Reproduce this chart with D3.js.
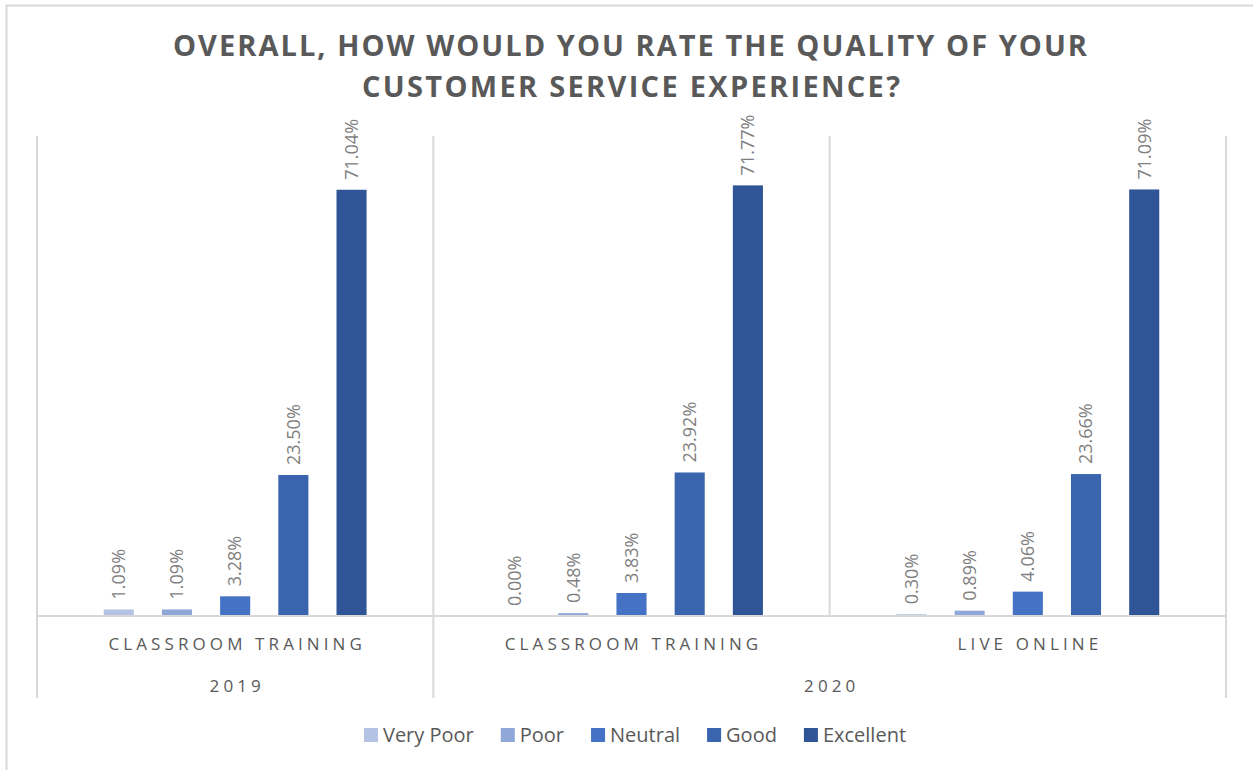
<!DOCTYPE html>
<html>
<head>
<meta charset="utf-8">
<script src="https://cdn.jsdelivr.net/npm/d3@7"></script>
<style>
  body { margin: 0; background: #fff; }
  svg { display: block; font-family: "Open Sans", "Liberation Sans", sans-serif; }
</style>
</head>
<body>
<script>
// data
var titleLines = ["OVERALL, HOW WOULD YOU RATE THE QUALITY OF YOUR", "CUSTOMER SERVICE EXPERIENCE?"];
var groups = ["CLASSROOM TRAINING|2019", "CLASSROOM TRAINING|2020", "LIVE ONLINE|2020"];
var groupLabels = ["CLASSROOM TRAINING", "CLASSROOM TRAINING", "LIVE ONLINE"];
var years = ["2019", "2020"];
var yearSpans = [[0, 0], [1, 2]];
var series = ["Very Poor", "Poor", "Neutral", "Good", "Excellent"];
var colors = ["#b4c2e4", "#8fa7d9", "#4472c4", "#3a64ae", "#2f5597"];
var veryPoor  = [1.09, 0.00, 0.30];
var poor      = [1.09, 0.48, 0.89];
var neutral   = [3.28, 3.83, 4.06];
var good      = [23.50, 23.92, 23.66];
var excellent = [71.04, 71.77, 71.09];
var values = [veryPoor, poor, neutral, good, excellent];

var W = 1253, H = 770;
var plot = {left: 37, right: 1226, top: 136, bottom: 616};

var svg = d3.select("body").append("svg")
    .attr("width", W)
    .attr("height", H);

// outer chart border
svg.append("rect")
    .attr("x", 6.5).attr("y", 5.5)
    .attr("width", 1260).attr("height", 800)
    .attr("fill", "none")
    .attr("stroke", "#d9d9d9")
    .attr("stroke-width", 2);

// title
svg.selectAll(".title")
    .data(titleLines).enter()
    .append("text")
    .attr("class", "title")
    .attr("x", function(d, i) { return i == 0 ? 630 : 631; })
    .attr("y", function(d, i) { return 56 + i * 41; })
    .attr("text-anchor", "middle")
    .attr("textLength", function(d, i) { return i == 0 ? 914 : 538; })
    .attr("lengthAdjust", "spacing")
    .style("font-size", "29px")
    .style("font-weight", "bold")
    .style("fill", "#595959")
    .text(function(d) { return d; });

var x0 = d3.scaleBand()
    .domain(groups)
    .range([plot.left, plot.right]);

var x1 = d3.scaleBand()
    .domain(series)
    .range([0, x0.bandwidth()])
    .paddingInner(0.483)
    .paddingOuter(1.147);

var y = d3.scaleLinear()
    .domain([0, 80])
    .range([plot.bottom, plot.top]);

var grid = "#d9d9d9";

// vertical separators
var seps = [
  {x: plot.left, y2: 698},
  {x: x0(groups[1]), y2: 698},
  {x: x0(groups[2]), y2: plot.bottom},
  {x: plot.right, y2: 698}
];
svg.selectAll(".sep")
    .data(seps).enter()
    .append("line")
    .attr("x1", function(d) { return d.x; })
    .attr("x2", function(d) { return d.x; })
    .attr("y1", plot.top)
    .attr("y2", function(d) { return d.y2; })
    .attr("stroke", grid)
    .attr("stroke-width", 2);

// bars
series.forEach(function(s, si) {
    var g = svg.append("g");
    g.selectAll("rect")
        .data(values[si]).enter()
        .append("rect")
        .attr("x", function(d, i) { return x0(groups[i]) + x1(s); })
        .attr("y", function(d) { return y(d); })
        .attr("width", x1.bandwidth())
        .attr("height", function(d) { return y(0) - y(d); })
        .attr("fill", colors[si]);

    g.selectAll("text")
        .data(values[si]).enter()
        .append("text")
        .attr("transform", function(d, i) {
            var cx = x0(groups[i]) + x1(s) + x1.bandwidth() / 2;
            return "translate(" + cx + "," + (y(d) - 10) + ") rotate(-90)";
        })
        .attr("dy", "0.35em")
        .style("font-size", "18px")
        .style("fill", "#7f7f7f")
        .text(function(d) { return d.toFixed(2) + "%"; });
});

// category axis line
svg.append("line")
    .attr("x1", plot.left).attr("x2", plot.right)
    .attr("y1", plot.bottom).attr("y2", plot.bottom)
    .attr("stroke", grid)
    .attr("stroke-width", 2);

var ls = 4.1;
svg.selectAll(".cat")
    .data(groupLabels).enter()
    .append("text")
    .attr("x", function(d, i) { return x0(groups[i]) + x0.bandwidth() / 2 + ls / 2; })
    .attr("y", 650)
    .attr("text-anchor", "middle")
    .style("font-size", "17px")
    .style("letter-spacing", ls + "px")
    .style("fill", "#595959")
    .text(function(d) { return d; });

svg.selectAll(".year")
    .data(years).enter()
    .append("text")
    .attr("x", function(d, i) {
        var a = x0(groups[yearSpans[i][0]]), b = x0(groups[yearSpans[i][1]]) + x0.bandwidth();
        return (a + b) / 2 + ls / 2;
    })
    .attr("y", 692)
    .attr("text-anchor", "middle")
    .style("font-size", "17px")
    .style("letter-spacing", ls + "px")
    .style("fill", "#595959")
    .text(function(d) { return d; });

// legend
var legend = svg.append("g");
var items = legend.selectAll("g")
    .data(series).enter()
    .append("g");
items.append("rect")
    .attr("width", 14).attr("height", 14)
    .attr("y", 728)
    .attr("fill", function(d, i) { return colors[i]; });
items.append("text")
    .attr("x", 19)
    .attr("y", 742)
    .style("font-size", "20px")
    .style("fill", "#595959")
    .text(function(d) { return d; });

var gap = 27;
var pos = [], cur = 0;
items.each(function() {
    var w = d3.select(this).select("text").node().getComputedTextLength();
    pos.push(cur);
    cur += 19 + w + gap;
});
var total = cur - gap;
var start = 635 - total / 2;
items.attr("transform", function(d, i) { return "translate(" + (start + pos[i]) + ",0)"; });
</script>
</body>
</html>
